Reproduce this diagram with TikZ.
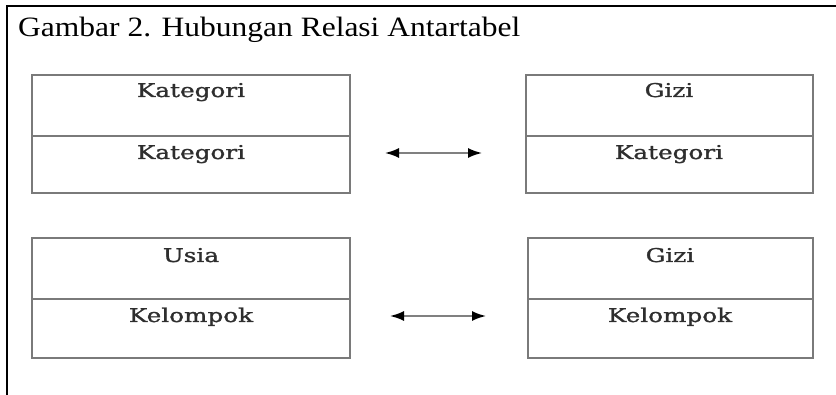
\documentclass[tikz,border=0pt]{standalone}
\usepackage{fontspec}
\setmainfont{Liberation Serif}
\newfontfamily\tabfont[RawFeature={embolden=1.2}]{DejaVu Serif}
\usetikzlibrary{arrows.meta}
\definecolor{boxgray}{HTML}{7A7A7A}
\definecolor{txtgray}{HTML}{2E2E2E}
\newcommand{\tabtext}[1]{\scalebox{1.3}[1]{#1}}

\begin{document}
\begin{tikzpicture}[x=1pt,y=-1pt,
  tab/.style={draw=boxgray, line width=1.8pt},
  sep/.style={draw=boxgray, line width=1.3pt},
  lbl/.style={anchor=base, inner sep=0pt, text=txtgray, font=\tabfont\fontsize{19}{21}\selectfont},
  tip/.tip={Latex[length=14pt,width=10pt,color=black]},
  rel/.style={tip-tip, draw=gray, line width=1.8pt}]
\useasboundingbox (0,0) rectangle (836,395);
\draw [line width=1.6pt] (7,395) -- (7,6) -- (836,6);
\node [anchor=base west, inner sep=0pt, font=\fontsize{28}{30}\selectfont] (judul) at (18,37) {\scalebox{1.125}[1]{Gambar 2. Hubungan Relasi Antartabel}};
% tabel atas
\draw [tab] (32,75) rectangle (350,193);
\draw [sep] (32,136) -- (350,136);
\draw [tab] (526,75) rectangle (813,193);
\draw [sep] (526,136) -- (813,136);
\node [lbl] (k1) at (191,97) {\tabtext{Kategori}};
\node [lbl] (k2) at (191,159) {\tabtext{Kategori}};
\node [lbl] (g1) at (669,97) {\tabtext{Gizi}};
\node [lbl] (g2) at (669,159) {\tabtext{Kategori}};
\coordinate (a1) at (385,153);
\coordinate (a2) at (482,153);
\draw [rel] (a1) -- (a2);
% tabel bawah
\draw [tab] (32,238) rectangle (350,358);
\draw [sep] (32,299) -- (350,299);
\draw [tab] (528,238) rectangle (813,358);
\draw [sep] (528,299) -- (813,299);
\node [lbl] (u1) at (191,262) {\tabtext{Usia}};
\node [lbl] (u2) at (191,322) {\tabtext{Kelompok}};
\node [lbl] (g3) at (670,262) {\tabtext{Gizi}};
\node [lbl] (g4) at (670,322) {\tabtext{Kelompok}};
\coordinate (b1) at (390,316);
\coordinate (b2) at (486,316);
\draw [rel] (b1) -- (b2);
\end{tikzpicture}
\end{document}
